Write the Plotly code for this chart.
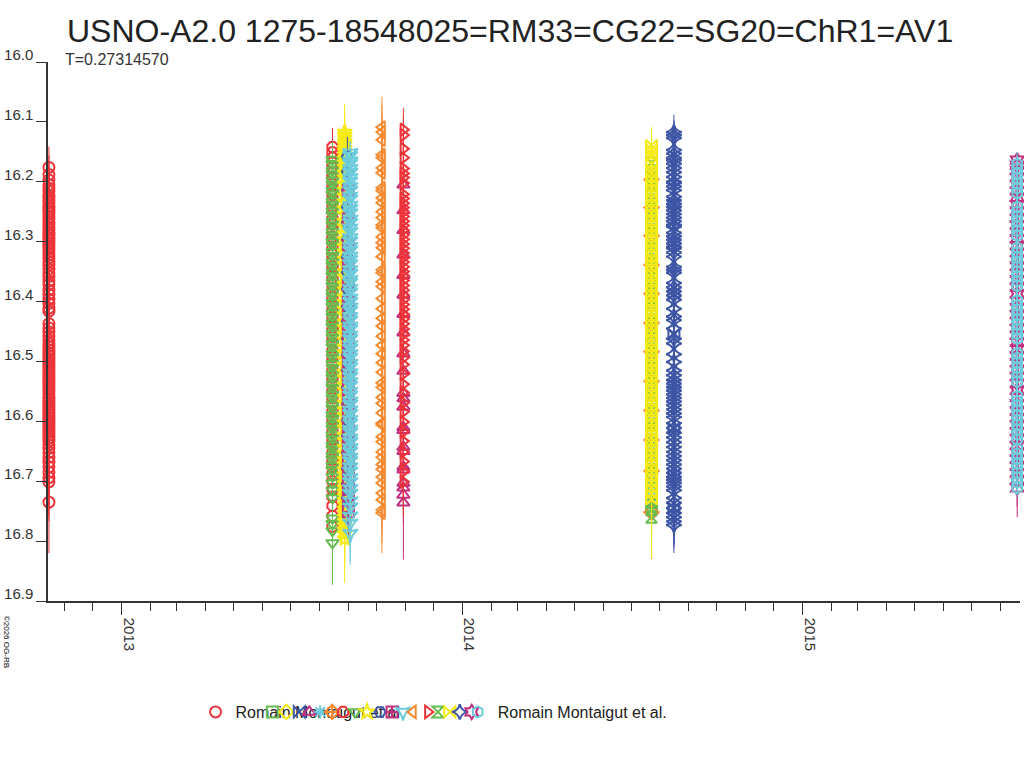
import plotly.graph_objects as go

TITLE = "USNO-A2.0 1275-18548025=RM33=CG22=SG20=ChR1=AV1"
SUBTITLE = "T=0.27314570"
OBSERVER = "Romain Montaigut et al."
COPYRIGHT = "©2026 OG-RB"
YEAR_TICK_VALS = ["2013-01-01", "2014-01-01", "2015-01-01"]
YEAR_TICK_TEXT = ["2013", "2014", "2015"]
Y_TICK_VALS = [16.0, 16.1, 16.2, 16.3, 16.4, 16.5, 16.6, 16.7, 16.8, 16.9]

# ---- series 1 ----
S01_DATE = "2012-10-15"
S01_MAG = [16.176, 16.188, 16.197, 16.205, 16.211, 16.216, 16.222, 16.226, 16.231, 16.235,
           16.240, 16.244, 16.249, 16.253, 16.258, 16.262, 16.267, 16.271, 16.276, 16.280,
           16.285, 16.289, 16.294, 16.298, 16.303, 16.308, 16.312, 16.317, 16.322, 16.327,
           16.333, 16.339, 16.346, 16.352, 16.358, 16.366, 16.372, 16.381, 16.388, 16.396,
           16.403, 16.411, 16.416, 16.437, 16.444, 16.451, 16.458, 16.464, 16.470, 16.475,
           16.481, 16.486, 16.491, 16.496, 16.501, 16.506, 16.511, 16.516, 16.521, 16.526,
           16.530, 16.535, 16.540, 16.545, 16.549, 16.554, 16.559, 16.563, 16.568, 16.573,
           16.578, 16.583, 16.588, 16.593, 16.598, 16.603, 16.608, 16.613, 16.618, 16.623,
           16.628, 16.633, 16.639, 16.645, 16.652, 16.660, 16.668, 16.676, 16.685, 16.694,
           16.701, 16.735]
S01_ERR = [.035, .032, .028, .031, .03, .029, .033, .03, .031, .028,
           .03, .032, .029, .031, .033, .03, .028, .032, .031, .03,
           .033, .029, .031, .034, .03, .032, .035, .031, .033, .036,
           .034, .037, .033, .036, .035, .038, .036, .034, .039, .037,
           .04, .038, .036, .041, .039, .042, .04, .043, .041, .044,
           .042, .045, .043, .046, .044, .047, .045, .048, .046, .049,
           .047, .05, .048, .051, .049, .052, .05, .053, .051, .054,
           .052, .055, .053, .056, .054, .057, .055, .058, .056, .059,
           .057, .06, .058, .061, .059, .062, .06, .063, .061, .064,
           .066, .085]

# ---- series 2 ----
S02_DATE = "2014-07-23"
S02_MAG = [16.186, 16.232, 16.281, 16.334, 16.379, 16.425, 16.476, 16.528, 16.574, 16.622, 16.668, 16.741]
S02_ERR = [.03, .032, .034, .031, .035, .033, .036, .034, .038, .036, .04, .045]

# ---- series 3 ----
S03_DATE = "2013-08-28"
S03_MAG = [16.215, 16.298, 16.372, 16.447, 16.521, 16.604, 16.668, 16.742]
S03_ERR = [.03, .032, .035, .036, .04, .042, .045, .05]

# ---- series 4 ----
S04_DATE = "2014-08-16"
S04_MAG = [16.238, 16.301, 16.387, 16.455, 16.539, 16.612, 16.689, 16.745]
S04_ERR = [.03, .033, .036, .035, .039, .041, .044, .047]

# ---- series 5 ----
S05_DATE = "2013-10-30"
S05_MAG = [16.205, 16.248, 16.281, 16.322, 16.356, 16.389, 16.421, 16.452, 16.487, 16.516,
           16.553, 16.562, 16.576, 16.610, 16.615, 16.643, 16.650, 16.676, 16.681, 16.703,
           16.711, 16.723, 16.736]
S05_ERR = [.035, .033, .036, .034, .037, .035, .038, .036, .039, .037,
           .04, .038, .041, .039, .042, .04, .043, .041, .044, .042,
           .045, .05, .095]

# ---- series 6 ----
S06_DATE = "2014-07-23"
S06_MAG = [16.205, 16.251, 16.302, 16.346, 16.398, 16.447, 16.493, 16.545, 16.598, 16.641, 16.689, 16.724]
S06_ERR = [.032, .03, .034, .033, .036, .035, .038, .037, .04, .039, .042, .045]

# ---- series 7 ----
S07_DATE = "2014-07-23"
S07_MAG = [16.196, 16.243, 16.290, 16.339, 16.387, 16.436, 16.484, 16.533, 16.582, 16.631, 16.683, 16.752]
S07_ERR = [.031, .033, .032, .035, .034, .037, .036, .039, .038, .041, .045, .078]

# ---- series 8 ----
S08_DATE = "2013-08-15"
S08_MAG = [16.142, 16.151, 16.160, 16.168, 16.176, 16.185, 16.193, 16.204, 16.213, 16.221,
           16.232, 16.241, 16.250, 16.262, 16.271, 16.280, 16.292, 16.301, 16.312, 16.321,
           16.330, 16.341, 16.352, 16.361, 16.372, 16.383, 16.392, 16.404, 16.415, 16.426,
           16.437, 16.448, 16.459, 16.470, 16.482, 16.493, 16.505, 16.516, 16.527, 16.539,
           16.550, 16.561, 16.573, 16.584, 16.596, 16.607, 16.618, 16.630, 16.641, 16.653,
           16.664, 16.676, 16.688, 16.700, 16.713, 16.726, 16.741, 16.758, 16.776]
S08_ERR = [.032, .028, .03, .027, .031, .029, .026, .03, .028, .031,
           .027, .03, .029, .032, .028, .031, .03, .027, .033, .029,
           .031, .034, .03, .033, .035, .031, .034, .036, .032, .035,
           .037, .033, .036, .038, .034, .039, .037, .04, .036, .041,
           .039, .042, .04, .043, .041, .045, .042, .046, .044, .047,
           .045, .048, .046, .05, .048, .051, .05, .053, .055]

# ---- series 9 ----
S09_DATE = "2013-08-15"
S09_MAG = [16.163, 16.170, 16.181, 16.187, 16.198, 16.204, 16.215, 16.221, 16.232, 16.238,
           16.249, 16.255, 16.266, 16.272, 16.283, 16.289, 16.300, 16.306, 16.317, 16.323,
           16.334, 16.340, 16.351, 16.357, 16.368, 16.374, 16.385, 16.391, 16.402, 16.408,
           16.419, 16.425, 16.436, 16.442, 16.453, 16.459, 16.470, 16.476, 16.487, 16.493,
           16.504, 16.510, 16.521, 16.527, 16.538, 16.544, 16.555, 16.561, 16.572, 16.578,
           16.589, 16.595, 16.606, 16.612, 16.623, 16.629, 16.640, 16.646, 16.657, 16.663,
           16.674, 16.681, 16.692, 16.703, 16.715, 16.728, 16.762, 16.771, 16.783, 16.803]
S09_ERR = [.03, .028, .031, .029, .032, .03, .027, .031, .029, .033,
           .03, .032, .029, .033, .031, .034, .03, .033, .035, .031,
           .034, .036, .032, .035, .037, .033, .036, .038, .034, .037,
           .039, .035, .038, .04, .036, .041, .039, .042, .038, .043,
           .041, .044, .04, .045, .043, .046, .042, .047, .045, .048,
           .046, .049, .047, .05, .048, .052, .05, .053, .051, .055,
           .053, .056, .054, .058, .057, .06, .062, .059, .064, .07]

# ---- series 10 ----
S10_DATE = "2013-08-28"
S10_MAG = [16.117, 16.122, 16.127, 16.133, 16.138, 16.144, 16.149, 16.155, 16.161, 16.168,
           16.176, 16.185, 16.193, 16.204, 16.213, 16.224, 16.233, 16.245, 16.254, 16.266,
           16.275, 16.287, 16.296, 16.308, 16.317, 16.329, 16.338, 16.350, 16.359, 16.371,
           16.380, 16.392, 16.401, 16.413, 16.422, 16.434, 16.443, 16.455, 16.464, 16.476,
           16.485, 16.497, 16.506, 16.518, 16.527, 16.539, 16.548, 16.560, 16.569, 16.581,
           16.590, 16.602, 16.611, 16.623, 16.632, 16.644, 16.653, 16.664, 16.672, 16.681,
           16.689, 16.697, 16.704, 16.711, 16.718, 16.725, 16.732, 16.739, 16.746, 16.753,
           16.760, 16.767, 16.774, 16.781, 16.788, 16.796]
S10_ERR = [.047, .035, .03, .028, .032, .03, .027, .031, .029, .03,
           .028, .031, .029, .032, .03, .033, .031, .029, .034, .032,
           .03, .035, .033, .031, .036, .034, .032, .037, .035, .033,
           .038, .036, .034, .039, .037, .035, .04, .038, .036, .041,
           .039, .037, .042, .04, .038, .043, .041, .039, .044, .042,
           .04, .045, .043, .041, .046, .044, .042, .047, .045, .043,
           .048, .046, .044, .049, .047, .045, .05, .048, .046, .051,
           .049, .052, .05, .055, .058, .074]

# ---- series 11 ----
S11_DATE = "2013-08-31"
S11_MAG = [16.158, 16.183, 16.214, 16.242, 16.268, 16.297, 16.326, 16.351, 16.379, 16.408,
           16.433, 16.462, 16.489, 16.515, 16.543, 16.571, 16.598, 16.624, 16.652, 16.679,
           16.704, 16.728]
S11_ERR = [.033, .03, .031, .029, .032, .03, .033, .031, .034, .032,
           .035, .033, .036, .034, .038, .036, .04, .038, .042, .04,
           .045, .048]

# ---- series 12 ----
S12_DATE = "2013-09-01"
S12_MAG = [16.214, 16.262, 16.305, 16.338, 16.372, 16.401, 16.423, 16.447, 16.468, 16.486,
           16.503, 16.521, 16.538, 16.556, 16.573, 16.591, 16.608, 16.626, 16.644, 16.661,
           16.679, 16.697, 16.714, 16.732, 16.751]
S12_ERR = [.03, .032, .031, .033, .032, .034, .033, .035, .034, .036,
           .035, .037, .036, .038, .037, .039, .038, .04, .039, .041,
           .04, .042, .041, .043, .045]

# ---- series 13 ----
S13_DATE = "2013-09-03"
S13_MAG = [16.152, 16.157, 16.166, 16.170, 16.179, 16.185, 16.194, 16.200, 16.209, 16.215,
           16.225, 16.230, 16.240, 16.246, 16.253, 16.263, 16.269, 16.278, 16.284, 16.294,
           16.300, 16.309, 16.315, 16.325, 16.331, 16.338, 16.348, 16.354, 16.364, 16.369,
           16.379, 16.385, 16.395, 16.401, 16.410, 16.416, 16.426, 16.432, 16.442, 16.447,
           16.457, 16.463, 16.473, 16.479, 16.488, 16.494, 16.504, 16.510, 16.520, 16.526,
           16.535, 16.541, 16.551, 16.557, 16.567, 16.572, 16.582, 16.588, 16.598, 16.604,
           16.614, 16.619, 16.629, 16.635, 16.645, 16.651, 16.661, 16.667, 16.677, 16.684,
           16.695, 16.702, 16.713, 16.721, 16.734, 16.744, 16.759, 16.771, 16.788]
S13_ERR = [.02, .024, .022, .026, .023, .027, .025, .028, .024, .029,
           .026, .03, .027, .031, .028, .032, .029, .033, .03, .034,
           .031, .035, .032, .036, .033, .037, .034, .038, .035, .039,
           .036, .04, .037, .041, .038, .042, .039, .043, .04, .044,
           .041, .045, .042, .046, .043, .047, .044, .048, .045, .049,
           .046, .05, .047, .051, .048, .052, .049, .053, .05, .054,
           .051, .055, .052, .056, .053, .057, .054, .058, .055, .059,
           .056, .06, .057, .061, .058, .062, .059, .063, .052]

# ---- series 14 ----
S14_DATE = "2013-10-07"
S14_MAG = [16.109, 16.117, 16.130, 16.155, 16.160, 16.177, 16.185, 16.210, 16.215, 16.227,
           16.235, 16.250, 16.260, 16.272, 16.277, 16.292, 16.302, 16.310, 16.325, 16.347,
           16.352, 16.367, 16.375, 16.395, 16.412, 16.428, 16.441, 16.458, 16.473, 16.487,
           16.502, 16.518, 16.536, 16.543, 16.560, 16.570, 16.586, 16.603, 16.606, 16.626,
           16.634, 16.651, 16.660, 16.672, 16.680, 16.693, 16.703, 16.720, 16.731, 16.748,
           16.753]
S14_ERR = [.051, .045, .04, .038, .036, .035, .037, .034, .036, .038,
           .035, .037, .039, .036, .038, .04, .037, .039, .041, .038,
           .04, .042, .039, .041, .043, .04, .042, .044, .041, .043,
           .045, .042, .044, .046, .043, .045, .047, .044, .046, .048,
           .045, .047, .049, .046, .048, .05, .047, .049, .051, .055,
           .067]

# ---- series 15 ----
S15_DATE = "2013-10-30"
S15_MAG = [16.113, 16.122, 16.145, 16.160, 16.178, 16.186, 16.193, 16.202, 16.221, 16.228,
           16.236, 16.243, 16.251, 16.258, 16.266, 16.273, 16.281, 16.289, 16.296, 16.304,
           16.311, 16.319, 16.327, 16.334, 16.342, 16.350, 16.357, 16.365, 16.373, 16.381,
           16.389, 16.397, 16.405, 16.413, 16.421, 16.429, 16.437, 16.446, 16.455, 16.464,
           16.473, 16.483, 16.494, 16.505, 16.521, 16.538, 16.552, 16.569, 16.584, 16.601,
           16.618, 16.633, 16.651, 16.667, 16.684, 16.701]
S15_ERR = [.036, .03, .028, .031, .029, .032, .03, .028, .031, .029,
           .032, .03, .033, .031, .029, .034, .032, .03, .035, .033,
           .031, .036, .034, .032, .037, .035, .033, .038, .036, .034,
           .039, .037, .035, .04, .038, .036, .041, .039, .037, .042,
           .04, .038, .043, .041, .039, .044, .042, .04, .045, .043,
           .041, .046, .044, .042, .05, .06]

# ---- series 16 ----
S16_DATE = "2014-07-23"
S16_MAG = [16.168, 16.181, 16.193, 16.206, 16.218, 16.231, 16.243, 16.256, 16.268, 16.281,
           16.293, 16.306, 16.318, 16.331, 16.343, 16.356, 16.368, 16.381, 16.393, 16.406,
           16.418, 16.431, 16.443, 16.456, 16.468, 16.481, 16.493, 16.506, 16.518, 16.531,
           16.543, 16.556, 16.568, 16.581, 16.593, 16.606, 16.618, 16.631, 16.643, 16.656,
           16.668, 16.681, 16.693, 16.706, 16.736, 16.748, 16.760]
S16_ERR = [.051, .03, .028, .032, .029, .031, .033, .03, .034, .032,
           .029, .033, .031, .035, .032, .03, .036, .034, .031, .037,
           .035, .032, .038, .036, .033, .039, .037, .034, .04, .038,
           .035, .041, .039, .036, .042, .04, .037, .043, .041, .038,
           .044, .042, .039, .045, .043, .046, .048]

# ---- series 17 ----
S17_DATE = "2014-07-23"
S17_MAG = [16.139, 16.146, 16.153, 16.158, 16.171, 16.179, 16.186, 16.195, 16.203, 16.211,
           16.219, 16.228, 16.236, 16.244, 16.253, 16.261, 16.269, 16.278, 16.286, 16.294,
           16.303, 16.311, 16.319, 16.328, 16.336, 16.344, 16.353, 16.361, 16.369, 16.378,
           16.386, 16.394, 16.403, 16.411, 16.419, 16.428, 16.436, 16.444, 16.453, 16.461,
           16.469, 16.478, 16.486, 16.494, 16.503, 16.511, 16.519, 16.528, 16.536, 16.544,
           16.553, 16.561, 16.569, 16.578, 16.586, 16.594, 16.603, 16.611, 16.619, 16.628,
           16.636, 16.644, 16.653, 16.661, 16.669, 16.678, 16.686, 16.694, 16.703, 16.712,
           16.721, 16.730]
S17_ERR = [.03, .028, .026, .029, .027, .03, .028, .031, .029, .027,
           .03, .028, .031, .029, .032, .03, .028, .033, .031, .029,
           .032, .03, .034, .032, .03, .035, .033, .031, .036, .034,
           .032, .037, .035, .033, .038, .036, .034, .039, .037, .035,
           .04, .038, .036, .041, .039, .037, .042, .04, .038, .043,
           .041, .039, .044, .042, .04, .045, .043, .041, .046, .044,
           .042, .047, .045, .043, .048, .046, .044, .05, .052, .06,
           .065, .098]

# ---- series 18 ----
S18_DATE = "2014-08-16"
S18_MAG = [16.117, 16.122, 16.127, 16.147, 16.153, 16.160, 16.164, 16.170, 16.177, 16.184,
           16.192, 16.200, 16.202, 16.208, 16.214, 16.225, 16.231, 16.237, 16.242, 16.248,
           16.254, 16.260, 16.266, 16.272, 16.275, 16.285, 16.291, 16.297, 16.303, 16.309,
           16.311, 16.318, 16.325, 16.342, 16.347, 16.352, 16.369, 16.376, 16.383, 16.390,
           16.397, 16.412, 16.425, 16.431, 16.445, 16.462, 16.470, 16.488, 16.501, 16.515,
           16.523, 16.531, 16.537, 16.543, 16.549, 16.555, 16.561, 16.567, 16.573, 16.580,
           16.587, 16.593, 16.603, 16.611, 16.619, 16.627, 16.635, 16.643, 16.651, 16.658,
           16.665, 16.672, 16.679, 16.686, 16.693, 16.698, 16.703, 16.709, 16.715, 16.728,
           16.736, 16.745, 16.753, 16.760, 16.767, 16.773]
S18_ERR = [.029, .025, .027, .024, .026, .023, .025, .027, .024, .026,
           .028, .025, .027, .029, .026, .028, .03, .027, .029, .031,
           .028, .03, .032, .029, .031, .033, .03, .032, .034, .031,
           .033, .035, .032, .034, .036, .033, .035, .037, .034, .036,
           .038, .035, .037, .039, .036, .038, .04, .037, .039, .041,
           .038, .04, .042, .039, .041, .043, .04, .042, .044, .041,
           .043, .045, .042, .044, .046, .043, .045, .047, .044, .046,
           .048, .045, .047, .049, .046, .048, .05, .047, .049, .045,
           .048, .046, .05, .048, .045, .047]

# ---- series 19 ----
S19_DATE = "2015-08-19"
S19_MAG = [16.164, 16.172, 16.181, 16.193, 16.204, 16.215, 16.226, 16.238, 16.249, 16.261,
           16.272, 16.284, 16.295, 16.307, 16.318, 16.330, 16.341, 16.353, 16.364, 16.376,
           16.387, 16.399, 16.410, 16.422, 16.433, 16.445, 16.456, 16.468, 16.479, 16.491,
           16.502, 16.514, 16.525, 16.537, 16.548, 16.560, 16.571, 16.583, 16.594, 16.606,
           16.617, 16.629, 16.640, 16.652, 16.663, 16.675, 16.686, 16.698, 16.711]
S19_ERR = [.012, .02, .022, .021, .024, .023, .026, .025, .028, .027,
           .03, .029, .032, .031, .034, .033, .036, .035, .038, .037,
           .04, .039, .042, .041, .044, .043, .046, .045, .048, .047,
           .05, .049, .048, .046, .045, .044, .043, .042, .041, .04,
           .039, .038, .037, .036, .035, .034, .04, .045, .049]

# ---- series 20 ----
S20_DATE = "2015-08-19"
S20_MAG = [16.170, 16.178, 16.186, 16.194, 16.203, 16.211, 16.219, 16.242, 16.250, 16.258,
           16.266, 16.274, 16.282, 16.290, 16.310, 16.318, 16.326, 16.334, 16.342, 16.350,
           16.358, 16.366, 16.374, 16.398, 16.406, 16.414, 16.422, 16.430, 16.438, 16.446,
           16.454, 16.462, 16.486, 16.494, 16.502, 16.510, 16.518, 16.526, 16.534, 16.558,
           16.566, 16.574, 16.582, 16.590, 16.598, 16.606, 16.614, 16.622, 16.630, 16.646,
           16.654, 16.662, 16.670, 16.678, 16.686, 16.694, 16.702, 16.711]
S20_ERR = [.02, .022, .021, .023, .022, .024, .023, .025, .024, .026,
           .025, .027, .026, .028, .027, .029, .028, .03, .029, .031,
           .03, .032, .031, .033, .032, .034, .033, .035, .034, .036,
           .035, .037, .036, .038, .037, .039, .038, .04, .039, .041,
           .04, .038, .036, .034, .032, .03, .028, .026, .024, .022,
           .02, .019, .018, .017, .016, .015, .015, .015]

SERIES_DATES = [S01_DATE, S02_DATE, S03_DATE, S04_DATE, S05_DATE, S06_DATE, S07_DATE,
                S08_DATE, S09_DATE, S10_DATE, S11_DATE, S12_DATE, S13_DATE, S14_DATE,
                S15_DATE, S16_DATE, S17_DATE, S18_DATE, S19_DATE, S20_DATE]
SERIES_MAGS = [S01_MAG, S02_MAG, S03_MAG, S04_MAG, S05_MAG, S06_MAG, S07_MAG, S08_MAG,
               S09_MAG, S10_MAG, S11_MAG, S12_MAG, S13_MAG, S14_MAG, S15_MAG, S16_MAG,
               S17_MAG, S18_MAG, S19_MAG, S20_MAG]
SERIES_ERRS = [S01_ERR, S02_ERR, S03_ERR, S04_ERR, S05_ERR, S06_ERR, S07_ERR, S08_ERR,
               S09_ERR, S10_ERR, S11_ERR, S12_ERR, S13_ERR, S14_ERR, S15_ERR, S16_ERR,
               S17_ERR, S18_ERR, S19_ERR, S20_ERR]
SERIES_NAMES = [OBSERVER] + [""] * 18 + [OBSERVER]

# ---- styles ----
PALETTE = ["#EE3338", "#66BB4F", "#F5EA14", "#3D55A5", "#C0307F", "#6CCCDC", "#F58A30"]
SYMBOLS = ["circle-open", "square-open", "diamond-open", "bowtie-open", "triangle-up-open",
           "asterisk-open", "diamond-cross-open", "octagon-open", "triangle-down-open",
           "star-open", "hexagon2-open", "square-cross-open", "star-triangle-down-open",
           "triangle-left-open", "triangle-right-open", "hourglass-open", "bowtie-open",
           "star-diamond-open", "hexagram-open", "hexagon-open"]
LEGEND_SYMBOL_PX = [213, 270, 284, 297, 307, 318, 330, 341, 353, 365,
                    378, 390, 401, 411, 426, 436, 448, 458, 470, 476]

FONT = "Arial, Liberation Sans, sans-serif"
W, H = 1024, 768
ML, MR, MT, MB = 45, 4, 62, 167
PW = W - ML - MR
PH = H - MT - MB

fig = go.Figure()
for i in range(len(SERIES_MAGS)):
    mags = SERIES_MAGS[i]
    errs = SERIES_ERRS[i]
    assert len(mags) == len(errs), (i, len(mags), len(errs))
    color = PALETTE[i % len(PALETTE)]
    fig.add_trace(go.Scatter(
        x=[SERIES_DATES[i]] * len(mags),
        y=mags,
        mode="markers",
        name=SERIES_NAMES[i],
        legend="legend" if i == 0 else f"legend{i + 1}",
        marker=dict(symbol=SYMBOLS[i], size=11, color=color, line=dict(width=2, color=color)),
        error_y=dict(type="data", array=errs, symmetric=True, color=color, thickness=1, width=0),
        cliponaxis=False,
    ))

legend_layout = {}
legend_y = (H - MB - 712) / PH
for i, px in enumerate(LEGEND_SYMBOL_PX):
    key = "legend" if i == 0 else f"legend{i + 1}"
    legend_layout[key] = dict(
        x=(px - 20 - ML) / PW, y=legend_y, xanchor="left", yanchor="middle",
        orientation="h", bgcolor="rgba(0,0,0,0)", borderwidth=0,
        font=dict(family=FONT, size=16, color="#222"), itemwidth=30,
    )

fig.update_layout(
    width=W, height=H,
    showlegend=True,
    margin=dict(l=ML, r=MR, t=MT, b=MB, pad=0),
    paper_bgcolor="white", plot_bgcolor="white",
    font=dict(family=FONT, color="#333"),
    title=dict(text=TITLE, x=67 / W, xanchor="left", xref="container",
               y=1 - 31 / H, yanchor="middle", yref="container",
               font=dict(family=FONT, size=32, color="#222")),
    xaxis=dict(
        type="date", range=["2012-10-14", "2015-08-22"],
        tickmode="array", tickvals=YEAR_TICK_VALS, ticktext=YEAR_TICK_TEXT,
        ticks="outside", ticklen=12, tickcolor="#333", tickwidth=1, tickangle=90,
        ticklabelshift=7,
        tickfont=dict(family=FONT, size=15, color="#333"),
        showline=True, linecolor="#333", linewidth=1.5, showgrid=False, zeroline=False,
        minor=dict(tickmode="linear", tick0="2012-11-01", dtick="M1", ticks="outside",
                   ticklen=8, tickcolor="#333", tickwidth=1, showgrid=False),
    ),
    yaxis=dict(
        range=[16.9, 16.0], tickmode="array", tickvals=Y_TICK_VALS,
        ticktext=[f"{v:.1f}" for v in Y_TICK_VALS],
        ticks="outside", ticklen=10, tickcolor="#333", tickwidth=1,
        ticklabelshift=7,
        tickfont=dict(family=FONT, size=15, color="#333"),
        showline=True, linecolor="#333", linewidth=1.5, showgrid=False, zeroline=False,
    ),
    annotations=[
        dict(text=SUBTITLE, xref="paper", yref="paper", x=(60 - ML) / PW,
             y=(H - MB - 59) / PH, xanchor="left", yanchor="middle", showarrow=False,
             font=dict(family=FONT, size=16, color="#333")),
        dict(text=COPYRIGHT, xref="paper", yref="paper", x=(4 - ML) / PW,
             y=(H - MB - 642) / PH, xanchor="center", yanchor="middle", showarrow=False,
             textangle=90, font=dict(family=FONT, size=8, color="#000")),
    ],
    **legend_layout,
)

fig.write_html("out.html", config={"displayModeBar": False},
               post_script="document.body.style.margin='0';document.body.style.overflow='hidden';")
